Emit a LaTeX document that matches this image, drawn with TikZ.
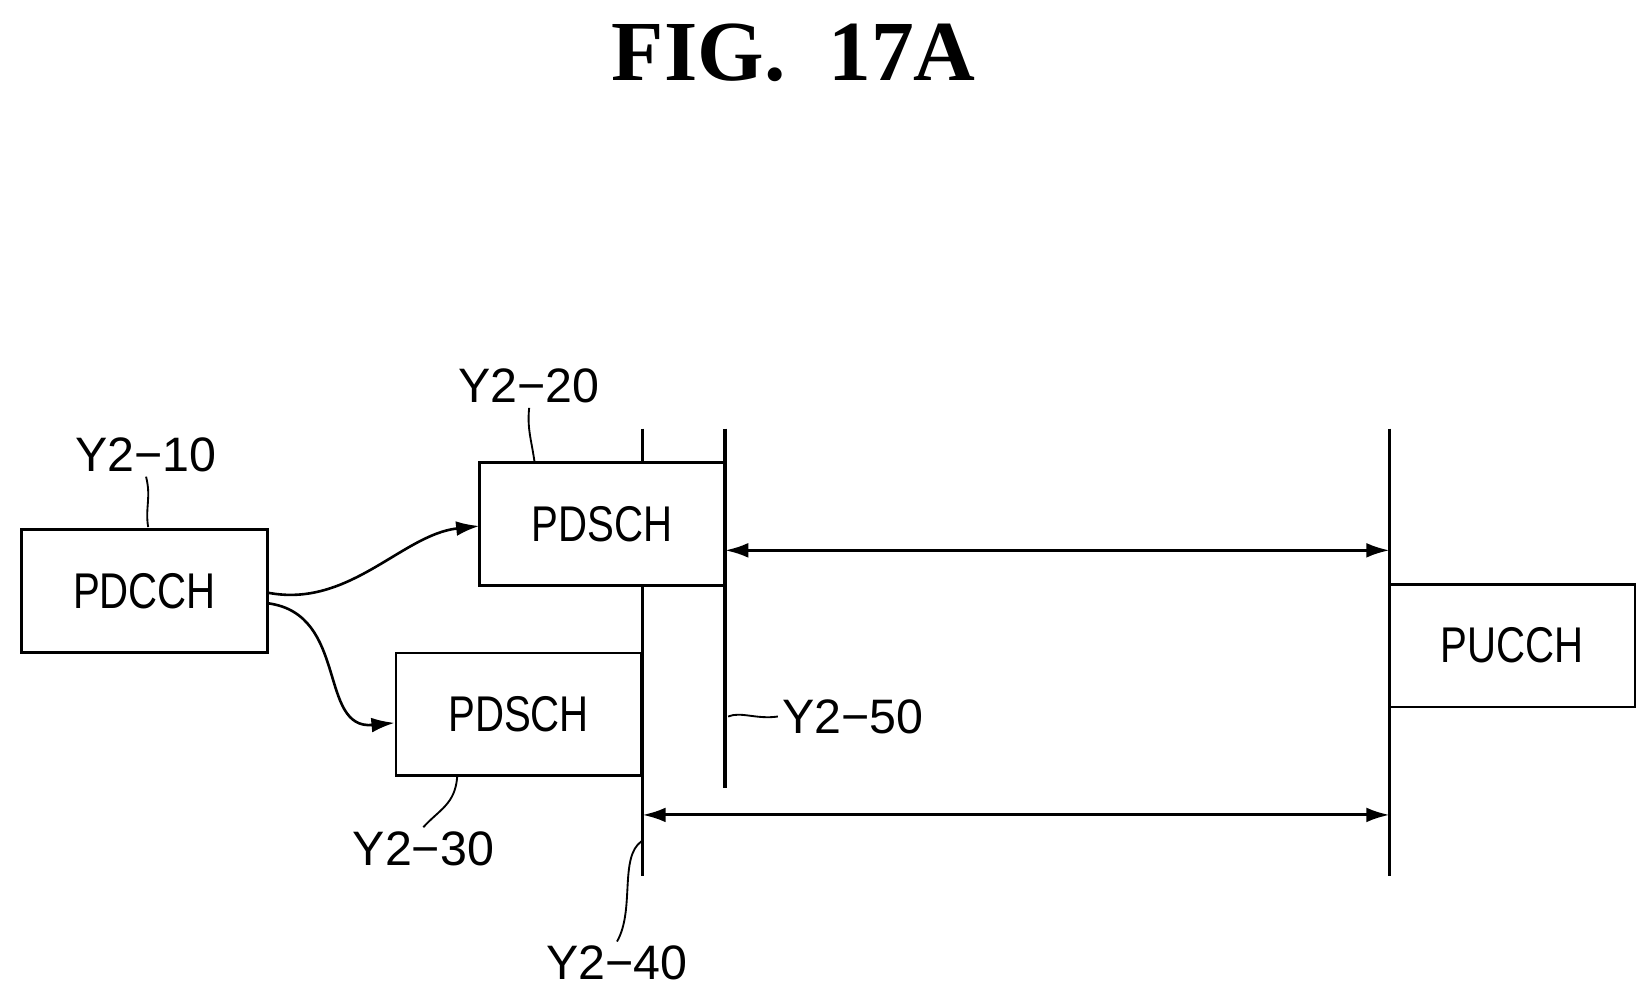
\documentclass[tikz,border=0pt]{standalone}
\usepackage{fontspec}
\setmainfont{Liberation Sans}
\newfontfamily\narrowfont[FakeStretch=0.8]{Liberation Sans}
\newfontfamily\titlefont{Liberation Serif}
\usetikzlibrary{arrows.meta}
\begin{document}
\begin{tikzpicture}[x=0.1mm,y=-0.1mm,
  box/.style={draw,fill=white,line width=0.7pt,minimum width=23.2mm,minimum height=11.6mm,inner sep=0pt,font=\narrowfont\fontsize{13.5}{16}\selectfont},
  lab/.style={font=\fontsize{13}{15}\selectfont,inner sep=1pt},
  bar/.style={line width=1pt},
  arr/.style={line width=0.8pt,{Latex[length=2.2mm,width=1.4mm]}-{Latex[length=2.2mm,width=1.4mm]}},
  one/.style={line width=0.7pt,-{Latex[length=2.2mm,width=1.4mm]}},
  lead/.style={line width=0.5pt}]
\useasboundingbox (0,0) rectangle (1560,940);
\node[font=\titlefont\bfseries\fontsize{23}{26}\selectfont] (title) at (750,50) {FIG.\ \ 17A};
\coordinate (a1) at (607,405); \coordinate (a2) at (607,828);
\coordinate (b1) at (685,405); \coordinate (b2) at (685,745);
\coordinate (c1) at (1313,405); \coordinate (c2) at (1313,828);
\draw[bar] (a1) -- (a2);
\draw[bar] (b1) -- (b2);
\draw[bar] (c1) -- (c2);
\node[box] (pdcch) at (136.5,558.5) {PDCCH};
\node[box] (pds1) at (569,495) {PDSCH};
\node[box] (pds2) at (490,675) {PDSCH};
\node[box] (pucch) at (1429,610) {PUCCH};
\draw[bar] (685,437) -- (685,553);
\coordinate (u1) at (685,520); \coordinate (u2) at (1313,520);
\coordinate (l1) at (607,770); \coordinate (l2) at (1313,770);
\draw[arr] (u1) -- (u2);
\draw[arr] (l1) -- (l2);
\draw[one] (253,560) .. controls (330,575) and (380,505) .. (453,497);
\draw[one] (253,570) .. controls (330,580) and (300,690) .. (373,683);
\node[lab] (y10) at (138,430) {Y2−10};
\draw[lead] (140,498) .. controls (137,480) and (143,470) .. (y10.south);
\node[lab] (y20) at (500,365) {Y2−20};
\draw[lead] (505,436) .. controls (502,415) and (498,405) .. (y20.south);
\node[lab] (y30) at (400,802) {Y2−30};
\draw[lead] (432,734) .. controls (430,760) and (415,765) .. (y30.north);
\node[lab] (y40) at (583,910) {Y2−40};
\draw[lead] (606,795) .. controls (585,810) and (600,860) .. (y40.north);
\node[lab,anchor=west] (y50) at (735,677) {Y2−50};
\draw[lead] (688,677) .. controls (700,672) and (715,680) .. (y50.west);
\end{tikzpicture}
\end{document}
